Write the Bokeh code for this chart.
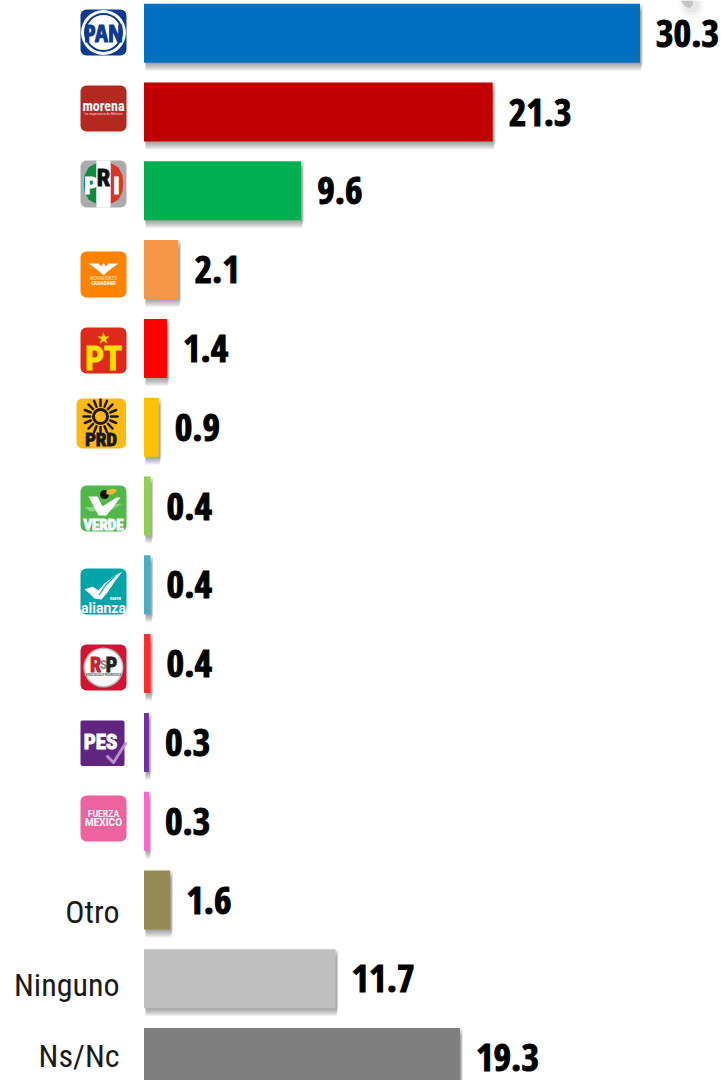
from bokeh.plotting import figure
from bokeh.models import Range1d
from bokeh.core.properties import value
from bokeh.embed import file_html
from bokeh.resources import INLINE
import math

parties = ["PAN","morena","PRI","MC","PT","PRD","VERDE","alianza","RSP","PES","FM","Otro","Ninguno","Ns/Nc"]
values = [30.3,21.3,9.6,2.1,1.4,0.9,0.4,0.4,0.4,0.3,0.3,1.6,11.7,19.3]
labels = ["30.3","21.3","9.6","2.1","1.4","0.9","0.4","0.4","0.4","0.3","0.3","1.6","11.7","19.3"]
colors = ["#0070C0","#C00000","#00B050","#F79646","#FF0000","#FFC000","#92D050","#4BACC6","#FF2A2A","#7030A0","#FF66CC","#948A54","#BFBFBF","#7F7F7F"]
text_categories = ["Otro","Ninguno","Ns/Nc"]

W, H = 721, 1080
U = 16.37
P = 78.8
X = lambda px: (px - 143.5) / U
Y = lambda py: (py - 32.7) / P

p = figure(width=W, height=H, output_backend="svg", toolbar_location=None,
           x_range=Range1d(X(0), X(W)), y_range=Range1d(Y(H), Y(0)),
           min_border=0, outline_line_color=None, background_fill_color="white")
p.axis.visible = False
p.grid.visible = False

idx = list(range(len(values)))
half = 29.5 / P
# soft shadows
for d in range(8, 0, -1):
    p.quad(left=[X(145)] * len(idx),
           right=[v + (3 - d * 0.25) / U for v in values],
           top=[i - half + d / P for i in idx], bottom=[i + half + d / P for i in idx],
           fill_color="#404040", fill_alpha=0.075, line_color=None)
p.hbar(y=idx, left=0, right=values, height=2 * half, fill_color=colors, line_color=None)

COND = value("Open Sans Condensed")
RC = value("Roboto Condensed")
p.text(x=values, y=idx, text=labels, x_offset=16, y_offset=0,
       text_font=COND, text_font_style="bold", text_font_size="38px",
       text_baseline="middle", text_align="left", text_color="black",
       text_outline_color="black")

# text categories
cat_idx = [parties.index(c) for c in text_categories]
p.text(x=[X(119)] * 3, y=cat_idx, text=text_categories, y_offset=[12, 6, -2],
       text_font=RC, text_font_size="32px", text_baseline="middle",
       text_align="right", text_color="#1a1a1a")


def box(x0, y0, x1, y1, color, r=6):
    p.quad(left=[X(x0)], right=[X(x1)], top=[Y(y0)], bottom=[Y(y1)], fill_color=color,
           line_color=None, border_radius=r)


def txt(x, y, s, size, color, style="bold", font="Roboto Condensed", outline=False):
    kw = {"text_outline_color": color} if outline else {}
    p.text(x=[X(x)], y=[Y(y)], text=[s], text_font=value(font), text_font_style=style,
           text_font_size=f"{size}px", text_align="center", text_baseline="middle",
           text_color=color, **kw)


def disc(x, y, r, color, alpha=1.0):
    p.ellipse(x=[X(x)], y=[Y(y)], width=[2 * r / U], height=[2 * r / P], fill_color=color, fill_alpha=alpha, line_color=None)


def poly(xs, ys, color, alpha=1.0):
    p.patch([X(a) for a in xs], [Y(b) for b in ys], fill_color=color, line_color=None, fill_alpha=alpha)


def stroke(xs, ys, color, w, alpha=1.0):
    p.line([X(a) for a in xs], [Y(b) for b in ys], line_color=color, line_width=w, line_alpha=alpha, line_cap="round", line_join="round")


# PAN
box(80, 9, 126, 55, "#0B3A8F")
disc(103, 32, 22.5, "white")
disc(103, 32, 19.5, "#0B3A8F")
disc(103, 32, 17.5, "white")
txt(103, 32, "PAN", 24, "#0B3A8F", font="Open Sans Condensed", outline=True)

# morena
box(80, 85, 126, 131, "#B5281F")
txt(103, 105.5, "morena", 14, "white", font="Roboto Condensed")
txt(103, 113, "La esperanza de México", 4, "#f3d8d5", style="normal")

# PRI
box(80, 160, 126, 207, "#ABABAB")
disc(103, 183, 20, "white")
poly([96, 93, 88, 84, 83, 84, 88, 93, 96], [163, 164, 167, 175, 183, 191, 199, 202, 203], "#0F8A3F")
poly([110, 113, 118, 122, 123, 122, 118, 113, 110], [163, 164, 167, 175, 183, 191, 199, 202, 203], "#D9352A")
box(96, 160, 110, 207, "white", 0)
txt(90.5, 185, "P", 24, "white", outline=True)
txt(103, 177, "R", 24, "#111111", outline=True)
txt(116, 185, "I", 24, "white", outline=True)

# Movimiento Ciudadano
box(80, 251, 126, 297, "#FF8300")
poly([88, 98, 101, 103, 105, 108, 118, 111, 106, 103, 100, 95], [263, 263, 266, 262, 266, 263, 263, 268, 272, 275, 272, 268], "white")
txt(103, 277.5, "MOVIMIENTO", 5, "#ffe3bf", style="normal")
txt(103, 282, "CIUDADANO", 5, "white")

# PT
box(80, 327, 126, 373, "#DD2A1B")
p.scatter(x=[X(103)], y=[Y(338)], marker="star", size=13, fill_color="#FFE000", line_color=None)
txt(103, 358, "PT", 33, "#FFE000", font="Roboto Condensed", outline=True)

# PRD
box(76, 398, 125.5, 448, "#FDB913")
for k in range(16):
    a = 2 * math.pi * k / 16
    stroke([100 + 10.5 * math.cos(a), 100 + 17 * math.cos(a)], [416 + 10.5 * math.sin(a), 416 + 17 * math.sin(a)], "#1a1a1a", 2.5)
disc(100, 416, 8.5, "#1a1a1a")
disc(100, 416, 5.5, "#FDB913")
txt(100.5, 439, "PRD", 19, "#1a1a1a", font="Roboto Condensed", outline=True)

# VERDE
box(80, 485, 126, 531, "#4FB848")
poly([84, 122, 110, 90], [507, 503, 510, 511], "#8fd08a")
poly([88, 97, 102, 116, 120, 106, 98], [496, 496, 506, 497, 497, 515, 515], "white")
disc(104, 494, 4.5, "#111111")
poly([106, 113, 117, 112, 106], [490, 488, 490, 494, 494], "#F2B632")
txt(103, 524, "VERDE", 15, "white", outline=True)

# alianza
box(80, 568, 126, 614, "#00A5A8")
poly([84, 92, 98, 104, 113, 122, 115, 107, 101, 94, 89], [589, 586, 590, 583, 576, 571, 580, 592, 599, 598, 593], "white")
stroke([99, 105, 114], [594, 585, 576], "#00A5A8", 1.2)
txt(115, 598, "nuevo", 4.5, "white")
txt(103, 607, "alianza", 14, "white", font="Roboto")

# RSP
box(80, 644, 126, 690, "#D01533")
disc(103, 667, 20, "#bdbdbd")
disc(103, 667, 18.5, "white")
txt(95, 664, "R", 20, "#C8202F", outline=True)
txt(103, 664, "S", 13, "#888888")
txt(111, 664, "P", 20, "#222222", outline=True)
txt(103, 675.5, "REDES SOCIALES PROGRESISTAS", 2.6, "#555555")

# PES
box(80, 720, 124, 765.5, "#5F2580", 2)
txt(100, 741.5, "PES", 21, "white", outline=True)
stroke([107, 113, 125], [756, 762, 743], "#B792CC", 3)

# Fuerza Mexico
box(80, 795, 126, 841, "#EE62A0")
txt(103, 813, "FUERZA", 8.5, "white", font="Roboto")
txt(103, 822, "MEXICO", 10, "white", font="Roboto")

# cropped ornament at the top right edge
for r, a in [(13, 0.05), (10, 0.07), (7, 0.09)]:
    disc(691, 5, r, "#808080", a)
poly([680, 692, 692.5, 689, 684], [0, 0, 4, 8, 5], "#c4c4c4")

open("out.html", "w").write(file_html(p, INLINE))
